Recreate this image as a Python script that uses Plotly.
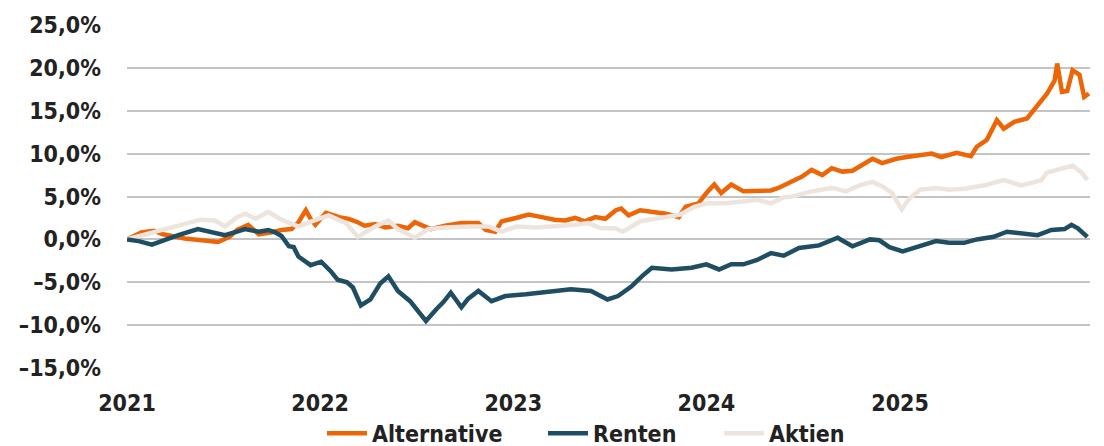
import plotly.graph_objects as go

# ---- data ----
alt_dates = ["2021-01-01","2021-01-28","2021-02-21","2021-03-10","2021-04-20","2021-05-24","2021-06-22",
             "2021-07-14","2021-07-28","2021-08-18","2021-09-07","2021-09-29","2021-10-20","2021-11-08",
             "2021-11-21","2021-12-05","2021-12-14","2021-12-23","2022-01-12","2022-02-06","2022-02-24",
             "2022-03-13","2022-03-26","2022-04-15","2022-05-04","2022-05-28","2022-06-16","2022-06-29",
             "2022-07-14","2022-07-29","2022-08-25","2022-09-25","2022-10-27","2022-11-10","2022-11-28",
             "2022-12-10","2023-01-06","2023-01-30","2023-02-24","2023-03-20","2023-04-09","2023-04-28",
             "2023-05-16","2023-06-05","2023-06-24","2023-07-05","2023-07-14","2023-07-24","2023-08-07",
             "2023-08-29","2023-09-23","2023-10-17","2023-11-10","2023-11-23","2023-12-04","2023-12-17",
             "2024-01-01","2024-01-16","2024-01-29","2024-02-17","2024-03-11","2024-04-06","2024-05-02",
             "2024-05-16","2024-06-11","2024-06-29","2024-07-18","2024-08-07","2024-08-25","2024-09-14",
             "2024-10-03","2024-10-21","2024-11-10","2024-11-28","2024-12-25","2025-01-14","2025-02-08",
             "2025-03-02","2025-03-20","2025-04-18","2025-05-15","2025-05-26","2025-06-14","2025-07-03",
             "2025-07-16","2025-08-05","2025-08-29","2025-09-18","2025-10-06","2025-10-20","2025-10-25",
             "2025-11-03","2025-11-13","2025-11-23","2025-12-06","2025-12-15","2025-12-24"]
alt_values = [0.0, 0.8, 1.0, 0.6, 0.1, -0.1, -0.3,
              0.3, 1.1, 1.7, 0.6, 0.8, 1.1, 1.2,
              2.0, 3.4, 2.4, 1.7, 3.1, 2.6, 2.4,
              2.0, 1.6, 1.8, 1.4, 1.6, 1.3, 2.0,
              1.6, 1.2, 1.6, 1.9, 1.9, 1.1, 0.9,
              2.1, 2.5, 2.9, 2.6, 2.3, 2.2, 2.5,
              2.1, 2.6, 2.4, 2.9, 3.4, 3.6, 2.8,
              3.4, 3.2, 3.0, 2.6, 3.8, 4.0, 4.2,
              5.4, 6.4, 5.4, 6.4, 5.6, 5.7, 5.7,
              6.0, 6.7, 7.3, 8.1, 7.5, 8.3, 7.9,
              8.0, 8.7, 9.4, 8.9, 9.4, 9.6, 9.8,
              10.0, 9.6, 10.1, 9.7, 10.8, 11.6, 13.9,
              12.9, 13.7, 14.1, 15.6, 17.0, 18.5, 20.5,
              17.2, 17.3, 19.7, 19.2, 16.6, 17.0]

ren_dates = ["2021-01-01","2021-01-23","2021-02-17","2021-03-10","2021-04-08","2021-05-15","2021-06-10",
             "2021-07-05","2021-07-28","2021-08-12","2021-09-07","2021-09-25","2021-10-09","2021-10-20",
             "2021-11-03","2021-11-12","2021-11-21","2021-12-05","2021-12-14","2022-01-03","2022-01-21",
             "2022-02-03","2022-02-21","2022-03-04","2022-03-19","2022-04-06","2022-04-25","2022-05-10",
             "2022-05-28","2022-06-20","2022-07-01","2022-07-20","2022-08-09","2022-08-22","2022-09-05",
             "2022-09-25","2022-10-08","2022-10-27","2022-11-21","2022-12-17","2023-01-25","2023-03-02",
             "2023-03-26","2023-04-20","2023-05-28","2023-06-28","2023-07-18","2023-08-12","2023-09-01",
             "2023-09-20","2023-10-27","2023-12-04","2024-01-01","2024-01-25","2024-02-17","2024-03-11",
             "2024-04-06","2024-05-02","2024-05-26","2024-06-24","2024-08-01","2024-09-05","2024-10-03",
             "2024-11-05","2024-11-23","2024-12-12","2025-01-06","2025-02-08","2025-03-10","2025-04-04",
             "2025-05-02","2025-05-26","2025-06-27","2025-07-22","2025-08-24","2025-09-18","2025-10-14",
             "2025-11-08","2025-11-21","2025-12-03","2025-12-21"]
ren_values = [0.0, -0.2, -0.6, -0.1, 0.5, 1.2, 0.8,
              0.5, 0.9, 1.2, 0.9, 1.1, 0.8, 0.4,
              -0.8, -0.9, -2.0, -2.7, -3.0, -2.6, -3.7,
              -4.7, -5.0, -5.6, -7.7, -7.0, -5.1, -4.3,
              -6.0, -7.2, -8.1, -9.5, -8.1, -7.3, -6.2,
              -7.9, -6.9, -6.0, -7.2, -6.6, -6.4, -6.2,
              -6.0, -5.8, -6.0, -7.0, -6.6, -5.5, -4.3,
              -3.3, -3.5, -3.3, -2.9, -3.5, -2.9, -2.9,
              -2.4, -1.6, -1.9, -1.0, -0.7, 0.2, -0.8,
              0.0, -0.1, -0.9, -1.4, -0.8, -0.2, -0.4,
              -0.4, 0.0, 0.3, 0.9, 0.7, 0.5, 1.1,
              1.2, 1.7, 1.3, 0.3]

akt_dates = ["2021-01-01","2021-02-17","2021-04-08","2021-05-20","2021-06-16","2021-07-05","2021-07-28",
             "2021-08-12","2021-09-01","2021-09-25","2021-10-20","2021-10-27","2021-11-21","2021-12-16",
             "2022-01-17","2022-02-19","2022-03-13","2022-04-15","2022-05-10","2022-05-28","2022-06-29",
             "2022-07-24","2022-08-25","2022-10-08","2022-11-16","2022-12-10","2023-01-06","2023-02-14",
             "2023-03-20","2023-04-28","2023-05-23","2023-06-16","2023-07-13","2023-07-27","2023-08-29",
             "2023-10-07","2023-11-13","2023-12-09","2024-01-03","2024-02-04","2024-03-06","2024-04-06",
             "2024-05-02","2024-05-26","2024-06-11","2024-07-18","2024-08-25","2024-09-21","2024-10-16",
             "2024-11-10","2024-11-28","2024-12-17","2025-01-04","2025-01-19","2025-02-08","2025-03-10",
             "2025-04-04","2025-05-02","2025-06-10","2025-07-16","2025-08-18","2025-09-25","2025-10-06",
             "2025-11-03","2025-11-23","2025-12-10","2025-12-21"]
akt_values = [0.0, 0.75, 1.5, 2.3, 2.2, 1.5, 2.6,
              3.0, 2.4, 3.2, 2.3, 2.1, 1.5, 2.1,
              2.8, 1.9, 0.3, 1.5, 2.2, 1.2, 0.2,
              1.2, 1.4, 1.5, 1.5, 0.9, 1.5, 1.4,
              1.5, 1.7, 1.9, 1.3, 1.3, 0.9, 2.1,
              2.5, 2.9, 3.8, 4.2, 4.2, 4.4, 4.6,
              4.2, 4.9, 5.0, 5.6, 6.0, 5.6, 6.3,
              6.7, 6.2, 5.4, 3.5, 4.8, 5.8, 6.0,
              5.8, 5.9, 6.3, 6.9, 6.3, 6.9, 7.8,
              8.2, 8.6, 7.8, 6.9]

y_tickvals = [-15, -10, -5, 0, 5, 10, 15, 20, 25]
y_ticktext = ["–15,0%", "–10,0%", "–5,0%", "0,0%", "5,0%", "10,0%", "15,0%", "20,0%", "25,0%"]
x_tickvals = ["2021-01-01", "2022-01-01", "2023-01-01", "2024-01-01", "2025-01-01"]
x_ticktext = ["2021", "2022", "2023", "2024", "2025"]

C_ALT = "#EC6608"
C_REN = "#1F4E63"
C_AKT = "#EDE4DD"
FONT = "DejaVu Sans Condensed"
TXT = "#222222"
FS = 23
LW = 4.5

# page has an 8px body margin, so the figure is 8px smaller than the window
W, H = 1096, 438

fig = go.Figure()
fig.add_trace(go.Scatter(x=alt_dates, y=alt_values, mode="lines", name="Alternative",
                         line=dict(color=C_ALT, width=LW), legend="legend"))
fig.add_trace(go.Scatter(x=akt_dates, y=akt_values, mode="lines", name="Aktien",
                         line=dict(color=C_AKT, width=LW), legend="legend3"))
fig.add_trace(go.Scatter(x=ren_dates, y=ren_values, mode="lines", name="Renten",
                         line=dict(color=C_REN, width=LW), legend="legend2"))

leg_common = dict(orientation="h", xref="container", yref="container", xanchor="left",
                  y=0.078, yanchor="top", itemwidth=40, bgcolor="rgba(0,0,0,0)",
                  font=dict(family=FONT, size=FS, color=TXT, weight="bold"))

fig.update_layout(
    width=W, height=H,
    margin=dict(l=119, r=14, t=16, b=77, autoexpand=False),
    paper_bgcolor="white", plot_bgcolor="white",
    font=dict(family=FONT, size=FS, color=TXT, weight="bold"),
    showlegend=True,
    legend=dict(x=314 / W, **leg_common),
    legend2=dict(x=535 / W, **leg_common),
    legend3=dict(x=711 / W, **leg_common),
)
fig.update_yaxes(range=[-15.1, 25.1], tickvals=y_tickvals, ticktext=y_ticktext,
                 showgrid=True, gridcolor="#c4c4c4", gridwidth=1.5, zeroline=False,
                 showline=False, ticks="", ticklabelstandoff=25, automargin=False,
                 tickfont=dict(family=FONT, size=FS, color=TXT, weight="bold"))
fig.update_xaxes(type="date", range=["2021-01-01", "2025-12-26"], tickvals=x_tickvals, ticktext=x_ticktext,
                 showgrid=False, zeroline=False, showline=False, ticks="", ticklabelstandoff=18,
                 automargin=False,
                 tickfont=dict(family=FONT, size=FS, color=TXT, weight="bold"))

fig.write_html("out.html")
